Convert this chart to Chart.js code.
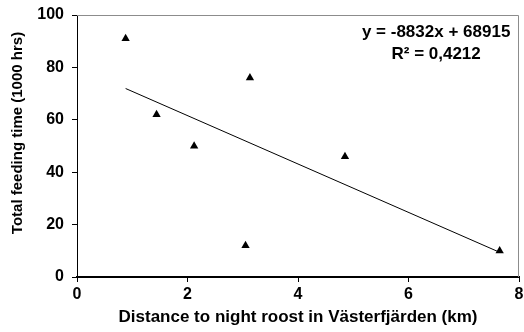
<!DOCTYPE html>
<html>
<head>
<meta charset="utf-8">
<script src="https://cdn.jsdelivr.net/npm/chart.js@4/dist/chart.umd.min.js"></script>
<style>
  html, body { margin: 0; padding: 0; background: #fff; }
  #wrap { width: 524px; height: 332px; position: relative; }
</style>
</head>
<body>
<div id="wrap"><canvas id="c"></canvas></div>
<script>
// Data
const distanceKm = [0.88, 1.44, 2.12, 3.05, 3.13, 4.85, 7.65];
const feedingTime = [91, 62, 50, 12, 76, 46, 10];
const xTicks = [0, 2, 4, 6, 8];
const yTicks = [0, 20, 40, 60, 80, 100];
const equationLines = ['y = -8832x + 68915', 'R² = 0,4212'];
const xTitle = 'Distance to night roost in Västerfjärden (km)';
const yTitle = 'Total feeding time (1000 hrs)';

// Least-squares trend line over the plotted points
const n = distanceKm.length;
const mx = distanceKm.reduce((a, b) => a + b, 0) / n;
const my = feedingTime.reduce((a, b) => a + b, 0) / n;
let sxy = 0, sxx = 0;
for (let i = 0; i < n; i++) {
  sxy += (distanceKm[i] - mx) * (feedingTime[i] - my);
  sxx += (distanceKm[i] - mx) ** 2;
}
const slope = sxy / sxx;
const intercept = my - slope * mx;
const xMin = Math.min(...distanceKm), xMax = Math.max(...distanceKm);
const trend = [
  { x: xMin, y: intercept + slope * xMin },
  { x: xMax, y: intercept + slope * xMax }
];

const FONT = '"Liberation Sans", Arial, sans-serif';

const framePlugin = {
  id: 'frame',
  beforeDatasetsDraw(chart) {
    const { ctx, chartArea: a } = chart;
    ctx.save();
    ctx.strokeStyle = '#8c8c8c';
    ctx.lineWidth = 1;
    ctx.beginPath();
    ctx.moveTo(a.left, a.top + 0.5);
    ctx.lineTo(a.right - 0.5, a.top + 0.5);
    ctx.lineTo(a.right - 0.5, a.bottom);
    ctx.stroke();
    ctx.restore();
  },
  afterDatasetsDraw(chart) {
    const { ctx, scales } = chart;
    const cx = scales.x.getPixelForValue(6.5);
    ctx.save();
    ctx.fillStyle = '#000';
    ctx.font = 'bold 17px ' + FONT;
    ctx.textAlign = 'center';
    ctx.textBaseline = 'alphabetic';
    ctx.fillText(equationLines[0], cx, scales.y.getPixelForValue(91.6));
    ctx.fillText(equationLines[1], cx, scales.y.getPixelForValue(83.1));
    // y axis title
    ctx.font = 'bold 15px ' + FONT;
    ctx.textBaseline = 'middle';
    ctx.translate(18, 133);
    ctx.rotate(-Math.PI / 2);
    ctx.fillText(yTitle, 0, 0);
    ctx.restore();
  }
};

new Chart(document.getElementById('c'), {
  type: 'scatter',
  data: {
    datasets: [
      {
        label: 'Feeding time',
        data: distanceKm.map((x, i) => ({ x, y: feedingTime[i] })),
        pointStyle: 'triangle',
        pointRadius: 4.8,
        pointHoverRadius: 4.8,
        backgroundColor: '#000',
        borderColor: '#000',
        borderWidth: 0
      },
      {
        type: 'line',
        label: 'Trend',
        data: trend,
        borderColor: '#000',
        borderWidth: 1,
        pointRadius: 0,
        fill: false
      }
    ]
  },
  options: {
    responsive: true,
    maintainAspectRatio: false,
    animation: false,
    devicePixelRatio: 1,
    layout: { padding: { top: 15, right: 5, left: 0, bottom: 0 } },
    plugins: { legend: { display: false }, tooltip: { enabled: false } },
    scales: {
      x: {
        type: 'linear',
        min: 0, max: 8,
        afterBuildTicks: s => { s.ticks = xTicks.map(v => ({ value: v })); },
        afterFit: s => { s.height = 55; s.paddingLeft = 0; s.paddingRight = 0; },
        grid: { display: true, drawOnChartArea: false, drawTicks: true, tickLength: 5, color: '#000', tickColor: '#000' },
        border: { display: true, color: '#000', width: 2 },
        ticks: { color: '#000', font: { family: FONT, size: 16, weight: 'bold' }, padding: 3, maxRotation: 0 },
        title: { display: true, text: xTitle, color: '#000', font: { family: FONT, size: 17, weight: 'bold' }, padding: { top: 0, bottom: 4 } }
      },
      y: {
        type: 'linear',
        min: 0, max: 100,
        afterBuildTicks: s => { s.ticks = yTicks.map(v => ({ value: v })); },
        afterFit: s => { s.width = 77; s.paddingTop = 0; s.paddingBottom = 0; },
        grid: { display: true, drawOnChartArea: false, drawTicks: true, tickLength: 5, color: '#000', tickColor: '#000' },
        border: { display: true, color: '#000', width: 1 },
        ticks: { color: '#000', font: { family: FONT, size: 16, weight: 'bold' }, padding: 8 },
        title: { display: false, text: yTitle }
      }
    }
  },
  plugins: [framePlugin]
});
</script>
</body>
</html>
